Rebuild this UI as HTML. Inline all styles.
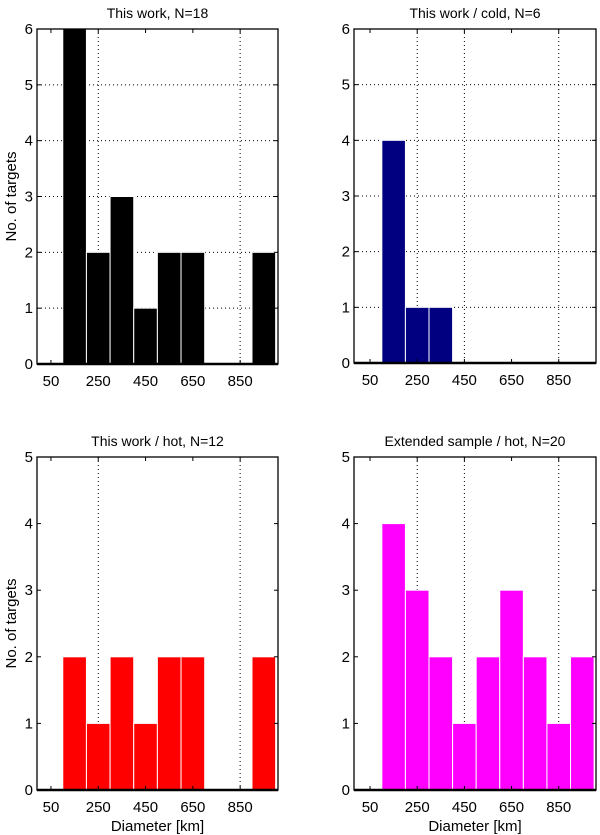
<!DOCTYPE html>
<html><head><meta charset="utf-8"><style>
body{margin:0;background:#fff;}
svg{display:block;font-family:"Liberation Sans",Arial,sans-serif;}
</style></head><body>
<svg id="fig" width="600" height="835" xmlns="http://www.w3.org/2000/svg"></svg>
<script>
const binEdgesStart = [100,200,300,400,500,600,700,800,900];
const binWidth = 100;
const xTicks = [50,250,450,650,850];
const countsAll = [6,2,3,1,2,2,0,0,2];
const countsCold = [4,1,1,0,0,0,0,0,0];
const countsHot = [2,1,2,1,2,2,0,0,2];
const countsExt = [4,3,2,1,2,3,2,1,2];
const yTicksTop = [0,1,2,3,4,5,6];
const yTicksBottom = [0,1,2,3,4,5];

const panels = [
 {name:'all', title:'This work, N=18', counts:countsAll, color:'#000000', x0:37,x1:278,y0:29,y1:364, xmin:-9,xmax:1010, ymax:6, yt:yTicksTop, gx:[250,850], gy:true, ylab:true, xlab:false},
 {name:'cold', title:'This work / cold, N=6', counts:countsCold, color:'#000080', x0:354,x1:596,y0:29,y1:363, xmin:-18,xmax:1008, ymax:6, yt:yTicksTop, gx:[250,450,850], gy:true, ylab:false, xlab:false},
 {name:'hot', title:'This work / hot, N=12', counts:countsHot, color:'#ff0000', x0:37,x1:278,y0:457,y1:790, xmin:-9,xmax:1010, ymax:5, yt:yTicksBottom, gx:[250,850], gy:false, ylab:true, xlab:true},
 {name:'extended-hot', title:'Extended sample / hot, N=20', counts:countsExt, color:'#ff00ff', x0:354,x1:596,y0:457,y1:790, xmin:-18,xmax:1008, ymax:5, yt:yTicksBottom, gx:[250,450,850], gy:false, ylab:false, xlab:true}
];
const NS='http://www.w3.org/2000/svg';
const svg=document.getElementById('fig');
function mk(tag,attrs,parent){const e=document.createElementNS(NS,tag);for(const k in attrs)e.setAttribute(k,attrs[k]);(parent||svg).appendChild(e);return e;}
panels.forEach(p=>{
 const g=mk('g',{});
 
 
 const xs=v=>p.x0+(v-p.xmin)/(p.xmax-p.xmin)*(p.x1-p.x0);
 const ys=v=>p.y1-v/p.ymax*(p.y1-p.y0);
 // grid
 p.gx.forEach(t=>{const l=mk('line',{x1:xs(t),x2:xs(t),y1:p.y0,y2:p.y1,stroke:'#000','stroke-width':1,'stroke-dasharray':'1,3'},g);
  
  });
 if(p.gy) p.yt.slice(1,-1).forEach(t=>{const l=mk('line',{x1:p.x0,x2:p.x1,y1:ys(t),y2:ys(t),stroke:'#000','stroke-width':1,'stroke-dasharray':'1,3'},g);
  
  });
 // bars
 p.counts.forEach((c,i)=>{ if(c<=0) return;
  const a=xs(binEdgesStart[i]), b=xs(binEdgesStart[i]+binWidth);
  const r=mk('rect',{x:a,y:ys(c),width:b-a,height:ys(0)-ys(c),fill:p.color,stroke:'#fff','stroke-width':1},g);
  
  });
 // box
 const box=mk('rect',{x:p.x0,y:p.y0,width:p.x1-p.x0,height:p.y1-p.y0,fill:'none',stroke:'#000','stroke-width':1.3},g);
 
 
 mk('line',{x1:p.x0,x2:p.x1,y1:p.y1,y2:p.y1,stroke:'#000','stroke-width':2.5},g);
 // ticks
 xTicks.forEach(t=>{const x=xs(t);
  mk('line',{x1:x,x2:x,y1:p.y1,y2:p.y1-4,stroke:'#000'},g);
  mk('line',{x1:x,x2:x,y1:p.y0,y2:p.y0+4,stroke:'#000'},g);
  const tx=mk('text',{x:x,y:p.y1+22,'text-anchor':'middle','font-size':15},g);tx.textContent=t;
  
  });
 p.yt.forEach(t=>{const y=ys(t);
  mk('line',{x1:p.x0,x2:p.x0+4,y1:y,y2:y,stroke:'#000'},g);
  mk('line',{x1:p.x1,x2:p.x1-4,y1:y,y2:y,stroke:'#000'},g);
  const tx=mk('text',{x:p.x0-4,y:y+5,'text-anchor':'end','font-size':15},g);tx.textContent=t;
  
  });
 const ti=mk('text',{x:(p.x0+p.x1)/2,y:p.y0-11,'text-anchor':'middle','font-size':14},g);ti.textContent=p.title;
 
 
 if(p.ylab){const yl=mk('text',{x:0,y:0,'text-anchor':'middle','font-size':15,transform:'translate(16,'+((p.y0+p.y1)/2)+') rotate(-90)'},g);yl.textContent='No. of targets';
  
  }
 if(p.xlab){const xl=mk('text',{x:(p.x0+p.x1)/2,y:831,'text-anchor':'middle','font-size':15},g);xl.textContent='Diameter [km]';
  
  }
});
</script>
</body></html>
